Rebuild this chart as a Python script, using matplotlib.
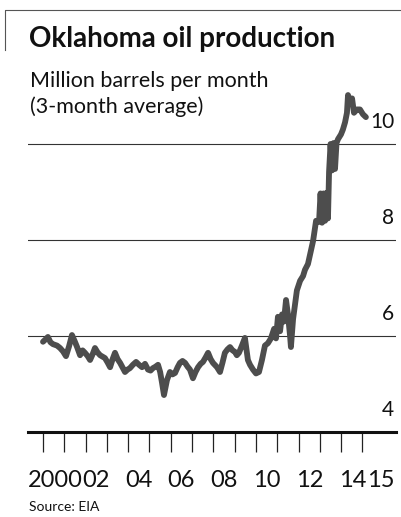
import matplotlib
matplotlib.use("Agg")
import matplotlib.pyplot as plt
from matplotlib.lines import Line2D
import matplotlib.transforms as mtransforms

# ---- data ----
years = [2000.00, 2000.12, 2000.23, 2000.35, 2000.47, 2000.66, 2000.80, 2000.94, 2001.08, 2001.22,
         2001.36, 2001.48, 2001.60, 2001.74, 2001.86, 2001.97, 2002.10, 2002.21, 2002.33, 2002.44,
         2002.56, 2002.68, 2002.80, 2002.91, 2003.03, 2003.15, 2003.27, 2003.38, 2003.50, 2003.62,
         2003.74, 2003.85, 2003.97, 2004.08, 2004.22, 2004.37, 2004.51, 2004.65, 2004.79, 2004.93,
         2005.05, 2005.16, 2005.28, 2005.40, 2005.50, 2005.59, 2005.68, 2005.82, 2005.96, 2006.08,
         2006.20, 2006.32, 2006.43, 2006.55, 2006.67, 2006.79, 2006.90, 2007.04, 2007.16, 2007.28,
         2007.40, 2007.51, 2007.63, 2007.75, 2007.87, 2007.98, 2008.17, 2008.31, 2008.43, 2008.54,
         2008.66, 2008.78, 2008.90, 2009.01, 2009.10, 2009.20, 2009.34, 2009.48, 2009.62, 2009.72,
         2009.86, 2010.00, 2010.14, 2010.28, 2010.42, 2010.56, 2010.70, 2010.85, 2010.94, 2011.03,
         2011.13, 2011.22, 2011.31, 2011.41, 2011.50, 2011.60, 2011.64, 2011.74, 2011.83, 2011.92,
         2012.07, 2012.21, 2012.30, 2012.44, 2012.54, 2012.68, 2012.82, 2012.96, 2013.03, 2013.10,
         2013.17, 2013.24, 2013.31, 2013.38, 2013.43, 2013.50, 2013.57, 2013.64, 2013.71, 2013.78,
         2013.85, 2013.99, 2014.08, 2014.18, 2014.27, 2014.32, 2014.41, 2014.51, 2014.60, 2014.74,
         2014.88, 2015.02, 2015.16]
production = [5.88, 5.93, 5.98, 5.87, 5.83, 5.80, 5.75, 5.68, 5.58, 5.78,
              6.02, 5.90, 5.77, 5.60, 5.70, 5.65, 5.58, 5.50, 5.62, 5.75,
              5.66, 5.60, 5.57, 5.54, 5.45, 5.35, 5.52, 5.65, 5.52, 5.44,
              5.34, 5.25, 5.30, 5.33, 5.40, 5.46, 5.40, 5.35, 5.42, 5.30,
              5.28, 5.33, 5.36, 5.40, 5.25, 5.02, 4.77, 5.08, 5.25, 5.20,
              5.23, 5.35, 5.44, 5.48, 5.44, 5.36, 5.30, 5.12, 5.25, 5.35,
              5.42, 5.46, 5.55, 5.65, 5.52, 5.44, 5.35, 5.25, 5.45, 5.65,
              5.72, 5.77, 5.70, 5.67, 5.60, 5.65, 5.80, 5.96, 5.50, 5.40,
              5.30, 5.22, 5.25, 5.50, 5.80, 5.85, 5.95, 6.15, 5.95, 6.40,
              6.10, 6.45, 6.30, 6.75, 6.45, 6.00, 5.77, 6.35, 6.65, 6.95,
              7.15, 7.25, 7.38, 7.50, 7.70, 7.98, 8.40, 8.38, 8.97, 8.36,
              8.97, 8.40, 8.98, 8.45, 9.42, 10.00, 9.45, 10.02, 9.48, 10.02,
              10.10, 10.20, 10.30, 10.45, 10.65, 11.02, 10.85, 10.95, 10.65, 10.72,
              10.72, 10.62, 10.56]

tick_years = list(range(2000, 2016))
label_pos = [2000.59, 2002.5, 2004.5, 2006.5, 2008.5, 2010.5, 2012.5, 2014.55, 2015.87]
label_txt = ["2000", "02", "04", "06", "08", "10", "12", "14", "15"]
y_ticks = [4, 6, 8, 10]
y_labels = ["4", "6", "8", "10"]

title = "Oklahoma oil production"
subtitle1 = "Million barrels per month"
subtitle2 = "(3-month average)"
source = "Source: EIA"

# ---- figure ----
W, H = 402, 517
plt.rcParams['font.family'] = ['Lato', 'DejaVu Sans']
fig = plt.figure(figsize=(W / 100, H / 100), dpi=100)

def fx(px):
    return px / W

def fy(py):
    return 1 - py / H

ax = fig.add_axes([fx(28), fy(432), fx(396) - fx(28), fy(60) - fy(432)])
ax.set_xlim(1999.296, 2016.573)
ax.set_ylim(4, 4 + 372 / 48)
for s in ax.spines.values():
    s.set_visible(False)

for v in y_ticks[1:]:
    ax.axhline(v, color="#333333", lw=0.8, zorder=1)
ax.axhline(4, color="#111111", lw=2.2, zorder=3, clip_on=False)

ax.plot(years, production, color="#4d4d4d", lw=4.2, solid_joinstyle="round",
        solid_capstyle="round", zorder=2)

ax.set_yticks([])
ax.set_xticks(tick_years)
ax.tick_params(axis="x", length=14.4, width=0.9, color="#222222",
               direction="out", labelbottom=False)

for v, lab in zip(y_ticks, y_labels):
    ax.text(2016.48, v + 0.33, lab, ha="right", va="baseline",
            fontsize=15, color="#111111")

trans = mtransforms.blended_transform_factory(ax.transData, fig.transFigure)
for p, lab in zip(label_pos, label_txt):
    ax.text(p, fy(487), lab, transform=trans, ha="center", va="baseline",
            fontsize=17, color="#111111")

fig.text(fx(29), fy(47), title, fontsize=20, fontweight="bold",
         ha="left", va="baseline", color="#111111")
fig.text(fx(30), fy(87), subtitle1, fontsize=15.5, ha="left", va="baseline",
         color="#111111")
fig.text(fx(30), fy(113), subtitle2, fontsize=15.5, ha="left", va="baseline",
         color="#111111")
fig.text(fx(29), fy(511), source, fontsize=10, ha="left", va="baseline",
         color="#111111")

fig.add_artist(Line2D([fx(5.5), fx(5.5), fx(402)], [fy(50), fy(10), fy(10)],
                      transform=fig.transFigure, color="#555555", lw=0.8))

fig.savefig("out.png", dpi=100)
